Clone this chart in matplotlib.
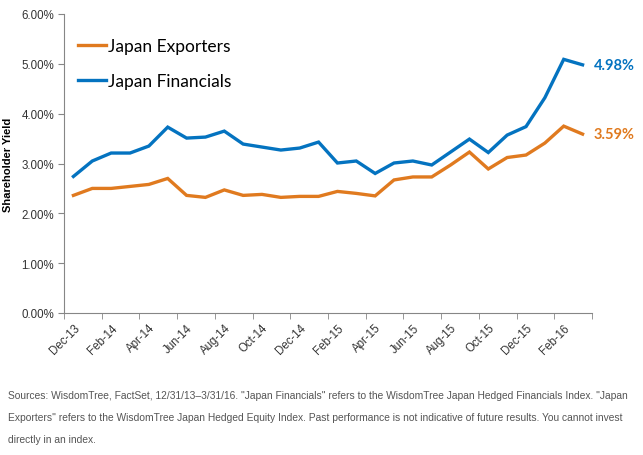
import matplotlib
matplotlib.use("Agg")
import matplotlib.pyplot as plt
import numpy as np

months = ["Dec-13", "Jan-14", "Feb-14", "Mar-14", "Apr-14", "May-14", "Jun-14", "Jul-14",
          "Aug-14", "Sep-14", "Oct-14", "Nov-14", "Dec-14", "Jan-15", "Feb-15", "Mar-15",
          "Apr-15", "May-15", "Jun-15", "Jul-15", "Aug-15", "Sep-15", "Oct-15", "Nov-15",
          "Dec-15", "Jan-16", "Feb-16", "Mar-16"]
exporters = [2.36, 2.50, 2.50, 2.54, 2.58, 2.70, 2.36, 2.32, 2.47, 2.36, 2.38, 2.32, 2.34, 2.34,
             2.44, 2.40, 2.35, 2.67, 2.73, 2.73, 2.97, 3.23, 2.89, 3.12, 3.17, 3.41, 3.75, 3.59]
financials = [2.74, 3.05, 3.21, 3.21, 3.35, 3.73, 3.51, 3.53, 3.65, 3.39, 3.33, 3.27, 3.31, 3.43,
              3.01, 3.05, 2.80, 3.01, 3.05, 2.97, 3.23, 3.49, 3.22, 3.57, 3.74, 4.32, 5.09, 4.98]
yticks = [0, 1, 2, 3, 4, 5, 6]

orange = "#E07A1F"
blue = "#0473C0"
axis_col = "#868686"

plt.rcParams['font.family'] = ['Lato', 'DejaVu Sans']

fig = plt.figure(figsize=(6.43, 4.56), dpi=100)
ax = fig.add_axes([64/643, 1 - 314/456, (592-64)/643, (314-15)/456])

x = np.arange(len(months))
ax.plot(x, exporters, color=orange, lw=2.4, label="Japan Exporters", solid_joinstyle='miter')
ax.plot(x, financials, color=blue, lw=2.4, label="Japan Financials", solid_joinstyle='miter')

ax.set_xlim(-0.5, len(months) - 0.5)
ax.set_ylim(0, 6)
ax.set_yticks(yticks)
ax.set_yticklabels([f"{v:.2f}%" for v in yticks], fontsize=8.3, color="#333333",
                   family=['Liberation Sans'])

ax.set_xticks(x[::2])
ax.set_xticklabels(months[::2], rotation=45, ha='right', rotation_mode='anchor',
                   fontsize=8.3, color="#333333", family=['Liberation Sans'])
ax.tick_params(axis='x', which='major', length=0, pad=6)
ax.set_xticks(np.arange(-0.5, len(months), 2), minor=True)
ax.tick_params(axis='x', which='minor', length=4, color=axis_col, direction='out')
ax.tick_params(axis='y', length=4, color=axis_col, direction='out', pad=3)

for s in ['top', 'right']:
    ax.spines[s].set_visible(False)
for s in ['left', 'bottom']:
    ax.spines[s].set_color(axis_col)

ax.set_ylabel("Shareholder Yield", fontsize=8, fontweight='bold',
              family=['Liberation Sans'], labelpad=6)

ax.text(len(months) - 0.5 + 0.1, financials[-1], f"{financials[-1]:.2f}%", color=blue,
        fontsize=10.5, fontweight='bold', va='center', ha='left', clip_on=False)
ax.text(len(months) - 0.5 + 0.1, exporters[-1], f"{exporters[-1]:.2f}%", color=orange,
        fontsize=10.5, fontweight='bold', va='center', ha='left', clip_on=False)

leg = ax.legend(loc='upper left', bbox_to_anchor=(0.0, 0.965), frameon=False, fontsize=12.5,
                handlelength=1.6, handletextpad=0.15, labelspacing=1.1, borderaxespad=0.4)

foot = ("Sources: WisdomTree, FactSet, 12/31/13\u20133/31/16. \"Japan Financials\" refers to the WisdomTree Japan Hedged Financials Index. \"Japan\n"
        "Exporters\" refers to the WisdomTree Japan Hedged Equity Index. Past performance is not indicative of future results. You cannot invest\n"
        "directly in an index.")
fig.text(8/643, 1 - 391/456, foot, fontsize=7.4, color="#555555", va='top', ha='left',
         linespacing=2.5, family=['Liberation Sans'])

fig.savefig("out.png", dpi=100)
